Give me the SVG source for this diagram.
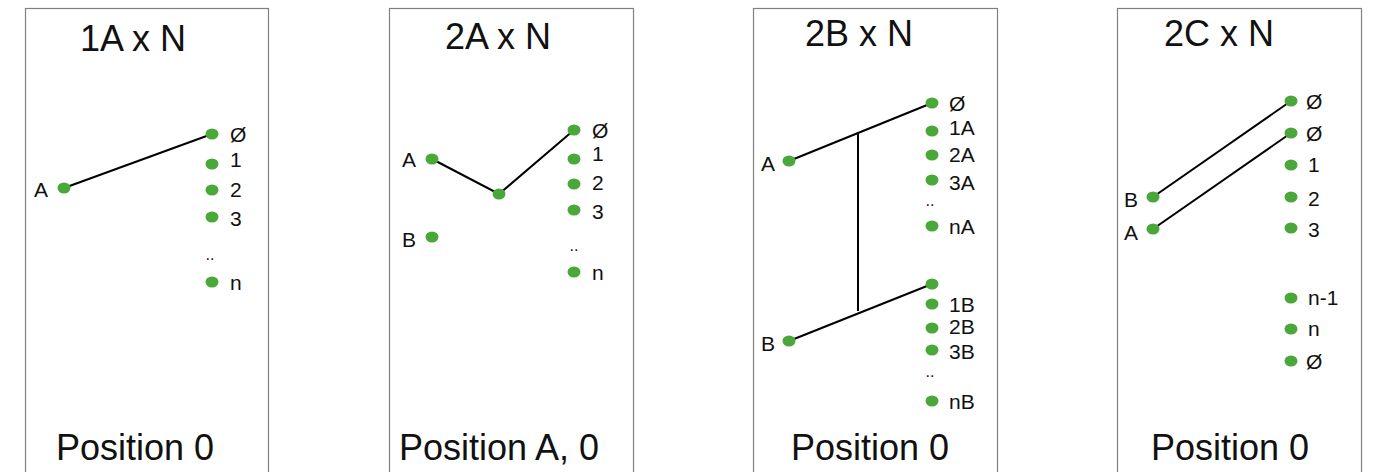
<svg xmlns="http://www.w3.org/2000/svg" width="1378" height="472" viewBox="0 0 1378 472">
<style>
.frame{fill:#fff;stroke:#808080;stroke-width:1.2}
.title{font-family:"Liberation Sans",Arial,sans-serif;font-size:36px;fill:#111;text-anchor:middle}
.pos{font-family:"Liberation Sans",Arial,sans-serif;font-size:36px;fill:#111;text-anchor:middle}
.lbl{font-family:"Liberation Sans",Arial,sans-serif;font-size:21px;fill:#111}
.lblr{font-family:"Liberation Sans",Arial,sans-serif;font-size:21px;fill:#111;text-anchor:end}
.dd{font-family:"Liberation Sans",Arial,sans-serif;font-size:16px;fill:#111;text-anchor:middle}
.dot{fill:#4aa83a}
.wire{stroke:#000;stroke-width:2;fill:none}
</style>
<defs>
<ellipse id="d" class="dot" cx="0" cy="0" rx="6.5" ry="5.5"/>
</defs>
<rect width="1378" height="472" fill="#fff"/>

<g id="panel-1A">
<rect class="frame" x="25.5" y="8.5" width="243" height="480"/>
<text class="title" x="133" y="51">1A x N</text>
<text class="pos" x="135" y="460">Position 0</text>
</g>
<g id="panel-2A">
<rect class="frame" x="389.5" y="8.5" width="244" height="480"/>
<text class="title" x="498" y="49">2A x N</text>
<text class="pos" x="499" y="460">Position A, 0</text>
</g>
<g id="panel-2B">
<rect class="frame" x="753.5" y="8.5" width="244" height="480"/>
<text class="title" x="859" y="46">2B x N</text>
<text class="pos" x="870" y="460">Position 0</text>
</g>
<g id="panel-2C">
<rect class="frame" x="1117.5" y="8.5" width="244" height="480"/>
<text class="title" x="1219" y="46">2C x N</text>
<text class="pos" x="1230" y="460">Position 0</text>
</g>

<g id="connectors">
<line class="wire" x1="64" y1="188" x2="212" y2="134"/>
<polyline class="wire" points="432,159 499,194 574,130"/>
<line class="wire" x1="789" y1="161" x2="932" y2="103"/>
<line class="wire" x1="789" y1="341" x2="932" y2="284"/>
<line class="wire" x1="858" y1="133" x2="858" y2="311"/>
<line class="wire" x1="1153" y1="197" x2="1291" y2="101"/>
<line class="wire" x1="1153" y1="229" x2="1291" y2="133"/>
</g>

<g id="nodes-1A">
<use href="#d" x="64" y="188"/><text class="lblr" x="48" y="197">A</text>
<use href="#d" x="212" y="134"/><text class="lbl" x="230" y="142">Ø</text>
<use href="#d" x="212" y="164"/><text class="lbl" x="230" y="167">1</text>
<use href="#d" x="212" y="190"/><text class="lbl" x="230" y="197">2</text>
<use href="#d" x="212" y="217"/><text class="lbl" x="230" y="226">3</text>
<text class="dd" x="210" y="260">..</text>
<use href="#d" x="212" y="282"/><text class="lbl" x="230" y="290">n</text>
</g>

<g id="nodes-2A">
<use href="#d" x="432" y="159"/><text class="lblr" x="416" y="167">A</text>
<use href="#d" x="432" y="237"/><text class="lblr" x="416" y="247">B</text>
<use href="#d" x="499" y="194"/>
<use href="#d" x="574" y="130"/><text class="lbl" x="592" y="138">Ø</text>
<use href="#d" x="574" y="159"/><text class="lbl" x="592" y="161">1</text>
<use href="#d" x="574" y="184"/><text class="lbl" x="592" y="190">2</text>
<use href="#d" x="574" y="210"/><text class="lbl" x="592" y="219">3</text>
<text class="dd" x="574" y="251">..</text>
<use href="#d" x="574" y="272"/><text class="lbl" x="592" y="280">n</text>
</g>

<g id="nodes-2B">
<use href="#d" x="789" y="161"/><text class="lblr" x="775" y="171">A</text>
<use href="#d" x="789" y="341"/><text class="lblr" x="775" y="351">B</text>
<use href="#d" x="932" y="103"/><text class="lbl" x="949" y="111">Ø</text>
<use href="#d" x="932" y="131"/><text class="lbl" x="949" y="135">1A</text>
<use href="#d" x="932" y="155"/><text class="lbl" x="949" y="162">2A</text>
<use href="#d" x="932" y="180"/><text class="lbl" x="949" y="190">3A</text>
<text class="dd" x="930" y="206">..</text>
<use href="#d" x="932" y="226"/><text class="lbl" x="949" y="234">nA</text>
<use href="#d" x="932" y="284"/>
<use href="#d" x="932" y="304"/><text class="lbl" x="949" y="312">1B</text>
<use href="#d" x="932" y="328"/><text class="lbl" x="949" y="334">2B</text>
<use href="#d" x="932" y="350"/><text class="lbl" x="949" y="359">3B</text>
<text class="dd" x="930" y="377">..</text>
<use href="#d" x="932" y="401"/><text class="lbl" x="949" y="409">nB</text>
</g>

<g id="nodes-2C">
<use href="#d" x="1153" y="197"/><text class="lblr" x="1138" y="207">B</text>
<use href="#d" x="1153" y="229"/><text class="lblr" x="1138" y="240">A</text>
<use href="#d" x="1291" y="101"/><text class="lbl" x="1306" y="109">Ø</text>
<use href="#d" x="1291" y="133"/><text class="lbl" x="1306" y="141">Ø</text>
<use href="#d" x="1291" y="165"/><text class="lbl" x="1308" y="172">1</text>
<use href="#d" x="1291" y="197"/><text class="lbl" x="1308" y="206">2</text>
<use href="#d" x="1291" y="228"/><text class="lbl" x="1308" y="237">3</text>
<use href="#d" x="1291" y="298"/><text class="lbl" x="1308" y="305">n-1</text>
<use href="#d" x="1291" y="329"/><text class="lbl" x="1308" y="336">n</text>
<use href="#d" x="1291" y="361"/><text class="lbl" x="1306" y="369">Ø</text>
</g>
</svg>
